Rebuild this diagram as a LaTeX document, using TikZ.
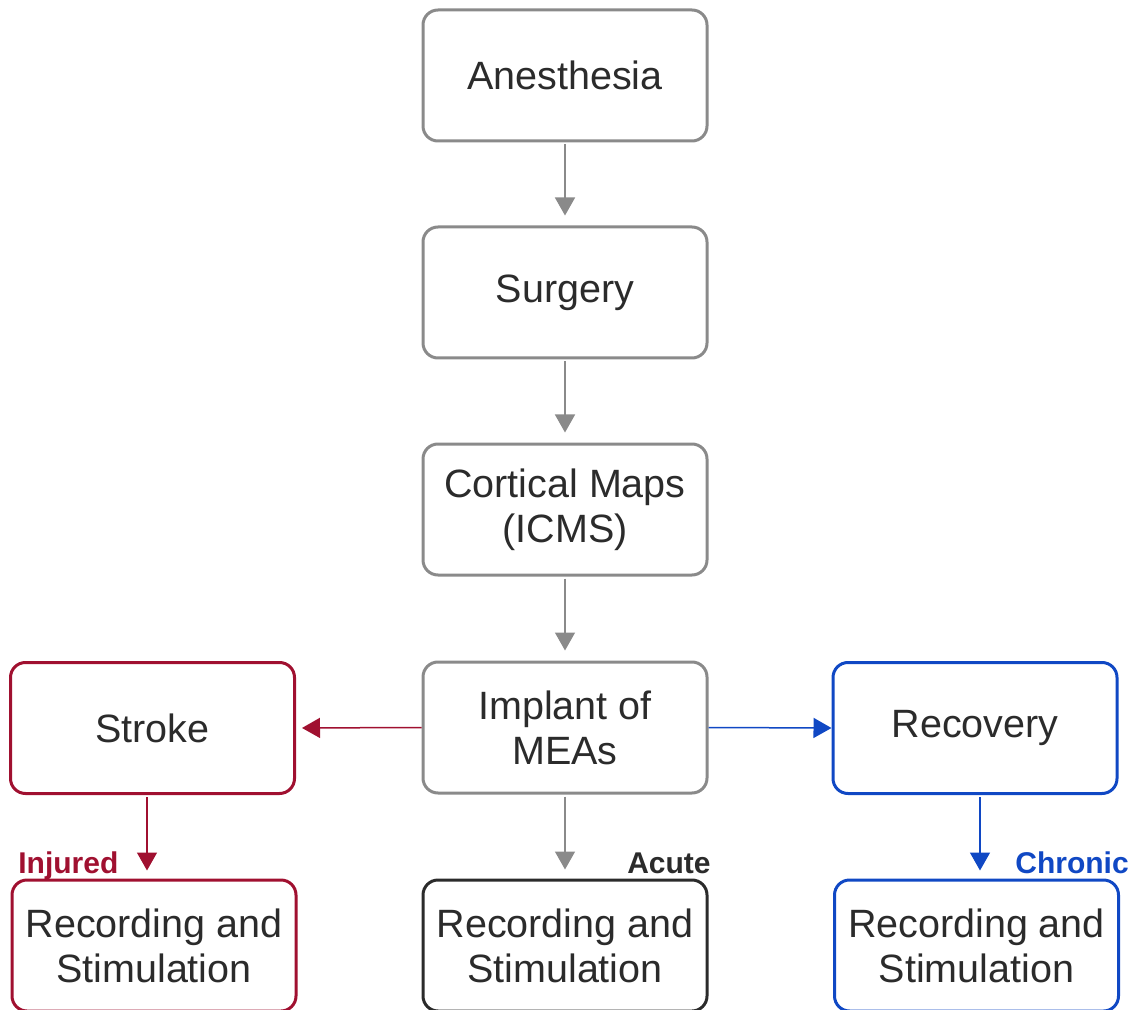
\documentclass[tikz,border=0pt]{standalone}
\usepackage{fontspec}
\setmainfont{Liberation Sans}
\usetikzlibrary{arrows.meta}
\definecolor{boxgray}{RGB}{138,138,138}
\definecolor{txtgray}{RGB}{43,43,43}
\definecolor{strokered}{RGB}{160,16,48}
\definecolor{chronblue}{RGB}{16,72,196}
\begin{document}
\begin{tikzpicture}[x=0.5pt,y=-0.5pt,
  stepbox/.style={draw=boxgray,line width=1.5pt,rounded corners=7.5pt,minimum width=142pt,minimum height=65.5pt,align=center,text=txtgray,font=\fontsize{19.75}{22.5}\selectfont},
  tag/.style={font=\fontsize{15}{18}\selectfont\bfseries,inner sep=0pt,anchor=base west},
  conn/.style={line width=0.75pt,-{Triangle[width=10pt,length=9pt]}}]
\useasboundingbox (0,0) rectangle (1140,1010);
\node[stepbox] (anes) at (565,75.5) {Anesthesia};
\node[stepbox] (surg) at (565,292.5) {Surgery};
\node[stepbox] (cort) at (565,509.5) {Cortical Maps\\(ICMS)};
\node[stepbox] (impl) at (565,727.5) {Implant of\\MEAs};
\node[stepbox,draw=strokered] (strk) at (152.5,728) {Stroke};
\node[stepbox,draw=chronblue] (reco) at (975,728) {Recovery};
\node[stepbox,draw=strokered] (recI) at (154,945.5) {Recording and\\Stimulation};
\node[stepbox,draw=txtgray] (recA) at (565,945.5) {Recording and\\Stimulation};
\node[stepbox,draw=chronblue] (recC) at (976.5,945.5) {Recording and\\Stimulation};
\node[tag,text=strokered] (inj) at (18,873) {Injured};
\node[tag,text=txtgray,anchor=base east] (acu) at (711,873) {Acute};
\node[tag,text=chronblue] (chr) at (1015,873) {Chronic};
\draw[conn,boxgray,shorten <=1pt,shorten >=5pt] (anes) -- (surg);
\draw[conn,boxgray,shorten <=1pt,shorten >=5pt] (surg) -- (cort);
\draw[conn,boxgray,shorten <=1pt,shorten >=5pt] (cort) -- (impl);
\draw[conn,boxgray,shorten <=1pt,shorten >=4.5pt] (impl) -- (recA);
\draw[conn,strokered,shorten >=3pt] (impl.west) -- (strk.east);
\draw[conn,chronblue] (impl.east) -- (reco.west);
\draw[conn,strokered,shorten <=1pt,shorten >=4pt] ([xshift=-2.75pt]strk.south) -- ([xshift=-2.75pt]strk.south |- recI.north);
\draw[conn,chronblue,shorten <=1pt,shorten >=4pt] ([xshift=2.5pt]reco.south) -- ([xshift=2.5pt]reco.south |- recC.north);
\end{tikzpicture}
\end{document}
